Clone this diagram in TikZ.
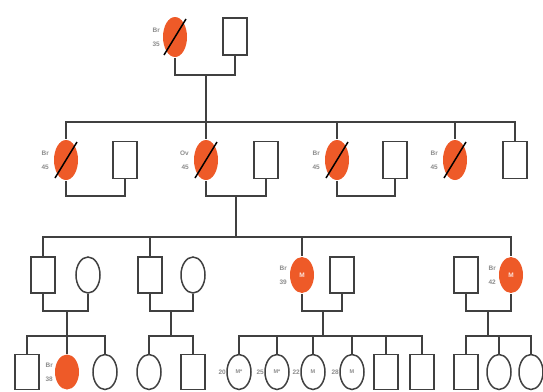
\documentclass[tikz,border=0pt]{standalone}
\usepackage{fontspec}
\setmainfont{Liberation Sans}
\usetikzlibrary{shapes.geometric}
\definecolor{affected}{HTML}{EE5A28}
\definecolor{edge}{HTML}{404040}
\definecolor{note}{HTML}{8C8C8C}
\tikzset{
  ln/.style={draw=edge, line width=1.5pt},
  sq/.style={rectangle, draw=edge, line width=1.5pt, fill=white, inner sep=0pt,
             minimum width=24pt, minimum height=37pt},
  ov/.style={ellipse, draw=edge, line width=1.5pt, fill=white, inner sep=0pt,
             minimum width=24pt, minimum height=38pt},
  aff/.style={draw=none, fill=affected, text=white!85!affected, font=\fontsize{6.5}{6.5}\selectfont\bfseries},
  gen3/.style={minimum height=36pt},
  gen4/.style={minimum height=35pt},
  dead/.style={draw=black, line width=1.5pt},
  tag/.style={text=note, font=\fontsize{6.5}{14}\selectfont\bfseries, align=right,
              inner sep=0pt, anchor=east},
  tagin/.style={text=note, font=\fontsize{5.5}{5.5}\selectfont\bfseries, inner sep=0pt},
}
\begin{document}
\begin{tikzpicture}[x=1pt,y=-1pt]
\useasboundingbox (0,0) rectangle (543,391);

% ---- generation I
\node[ov,aff,minimum height=40pt] (a1) at (175,37) {};
\node[sq] (a2) at (235,36.5) {};
\coordinate (a12) at (206,75);
\draw[ln] (a1.south) |- (a12) -| (a2.south);
\draw[dead] (a1.center) +(-11,18) -- +(11,-18);
\node[tag] (ta1) at (160,37) {Br\\35};

% ---- generation II
\coordinate (b0) at (206,122);
\draw[ln] (a12) -- (b0);
\node[ov,aff,minimum height=40pt] (b1) at (66,160) {};
\node[sq] (b2) at (125,160) {};
\node[ov,aff,minimum height=40pt] (b3) at (206,160) {};
\node[sq] (b4) at (266,160) {};
\node[ov,aff,minimum height=40pt] (b5) at (337,160) {};
\node[sq] (b6) at (395,160) {};
\node[ov,aff,minimum height=40pt] (b7) at (455,160) {};
\node[sq] (b8) at (515,160) {};
\foreach \n in {b1,b3,b5,b7,b8} \draw[ln] (b0) -| (\n.north);
\foreach \n in {b1,b3,b5,b7} \draw[dead] (\n.center) +(-11,18) -- +(11,-18);
\coordinate (b12) at (96,196);
\coordinate (b34) at (236,196);
\coordinate (b56) at (366,196);
\draw[ln] (b1.south) |- (b12) -| (b2.south);
\draw[ln] (b3.south) |- (b34) -| (b4.south);
\draw[ln] (b5.south) |- (b56) -| (b6.south);
\node[tag] (tb1) at (49,160) {Br\\45};
\node[tag] (tb3) at (189,160) {Ov\\45};
\node[tag] (tb5) at (320,160) {Br\\45};
\node[tag] (tb7) at (438,160) {Br\\45};

% ---- generation III
\coordinate (c0) at (236,237);
\draw[ln] (b34) -- (c0);
\node[sq,gen3] (c1) at (43,275) {};
\node[ov,gen3] (c2) at (88,275) {};
\node[sq,gen3] (c3) at (150,275) {};
\node[ov,gen3] (c4) at (193,275) {};
\node[ov,gen3,aff] (c5) at (302,275) {M};
\node[sq,gen3] (c6) at (342,275) {};
\node[sq,gen3] (c7) at (466,275) {};
\node[ov,gen3,aff] (c8) at (511,275) {M};
\foreach \n in {c1,c3,c5,c8} \draw[ln] (c0) -| (\n.north);
\coordinate (c12) at (67,311);
\coordinate (c34) at (171,311);
\coordinate (c56) at (323,311);
\coordinate (c78) at (488,311);
\draw[ln] (c1.south) |- (c12) -| (c2.south);
\draw[ln] (c3.south) |- (c34) -| (c4.south);
\draw[ln] (c5.south) |- (c56) -| (c6.south);
\draw[ln] (c7.south) |- (c78) -| (c8.south);
\node[tag] (tc5) at (287,275) {Br\\39};
\node[tag] (tc8) at (496,275) {Br\\42};

% ---- generation IV
\coordinate (d0) at (67,336);
\coordinate (e0) at (171,336);
\coordinate (f0) at (323,336);
\coordinate (g0) at (488,336);
\draw[ln] (c12) -- (d0);
\draw[ln] (c34) -- (e0);
\draw[ln] (c56) -- (f0);
\draw[ln] (c78) -- (g0);

\node[sq,gen4] (d1) at (27,372) {};
\node[ov,gen4,aff] (d2) at (67,372) {};
\node[ov,gen4] (d3) at (105,372) {};
\node[ov,gen4] (e1) at (149,372) {};
\node[sq,gen4] (e2) at (193,372) {};
\node[ov,gen4] (f1) at (239,372) {};
\node[ov,gen4] (f2) at (277,372) {};
\node[ov,gen4] (f3) at (313,372) {};
\node[ov,gen4] (f4) at (352,372) {};
\node[sq,gen4] (f5) at (386,372) {};
\node[sq,gen4] (f6) at (422,372) {};
\node[sq,gen4] (g1) at (466,372) {};
\node[ov,gen4] (g2) at (499,372) {};
\node[ov,gen4] (g3) at (531,372) {};
\foreach \n in {d1,d2,d3} \draw[ln] (d0) -| (\n.north);
\foreach \n in {e1,e2} \draw[ln] (e0) -| (\n.north);
\foreach \n in {f1,f2,f3,f4,f5,f6} \draw[ln] (f0) -| (\n.north);
\foreach \n in {g1,g2,g3} \draw[ln] (g0) -| (\n.north);

\node[tag] (td2) at (53,372) {Br\\38};
\node[tagin] (in1) at (f1.center) {M*};
\node[tagin] (in2) at (f2.center) {M*};
\node[tagin] (in3) at (f3.center) {M};
\node[tagin] (in4) at (f4.center) {M};
\node[tag] (tf1) at (226,372) {20};
\node[tag] (tf2) at (264,372) {25};
\node[tag] (tf3) at (300,372) {22};
\node[tag] (tf4) at (339,372) {28};
\end{tikzpicture}
\end{document}
